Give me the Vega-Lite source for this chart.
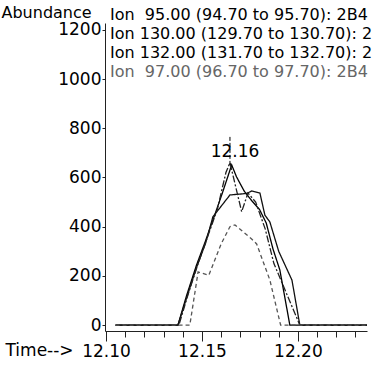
{
  "$schema": "https://vega.github.io/schema/vega-lite/v6.json",
  "width": 262,
  "height": 308,
  "autosize": {"type": "none"},
  "padding": {"left": 105, "top": 23, "right": 10, "bottom": 39},
  "background": "white",
  "config": {"view": {"stroke": null}, "font": "DejaVu Sans"},
  "title": {
    "text": ["Ion\u00a0 95.00 (94.70 to 95.70): 2B4", "Ion 130.00 (129.70 to 130.70): 2", "Ion 132.00 (131.70 to 132.70): 2"],
    "subtitle": "Ion\u00a0 97.00 (96.70 to 97.70): 2B4",
    "anchor": "start",
    "frame": "group",
    "orient": "top",
    "offset": -76,
    "dx": 5,
    "font": "DejaVu Sans",
    "fontSize": 16,
    "fontWeight": "normal",
    "lineHeight": 19,
    "color": "black",
    "subtitleFont": "DejaVu Sans",
    "subtitleFontSize": 16,
    "subtitleColor": "#666666",
    "subtitlePadding": 3
  },
  "datasets": {
    "ions": [
      {"ion": "Ion 95", "t": 12.105, "v": 0},
      {"ion": "Ion 95", "t": 12.1375, "v": 0},
      {"ion": "Ion 95", "t": 12.142, "v": 120},
      {"ion": "Ion 95", "t": 12.147, "v": 240},
      {"ion": "Ion 95", "t": 12.152, "v": 345},
      {"ion": "Ion 95", "t": 12.157, "v": 455},
      {"ion": "Ion 95", "t": 12.161, "v": 545},
      {"ion": "Ion 95", "t": 12.1655, "v": 651},
      {"ion": "Ion 95", "t": 12.168, "v": 603},
      {"ion": "Ion 95", "t": 12.172, "v": 545},
      {"ion": "Ion 95", "t": 12.176, "v": 505},
      {"ion": "Ion 95", "t": 12.18, "v": 470},
      {"ion": "Ion 95", "t": 12.1835, "v": 415},
      {"ion": "Ion 95", "t": 12.187, "v": 310},
      {"ion": "Ion 95", "t": 12.1906, "v": 224},
      {"ion": "Ion 95", "t": 12.1958, "v": 0},
      {"ion": "Ion 95", "t": 12.236, "v": 0},
      {"ion": "Ion 130", "t": 12.105, "v": 0},
      {"ion": "Ion 130", "t": 12.1375, "v": 0},
      {"ion": "Ion 130", "t": 12.142, "v": 110},
      {"ion": "Ion 130", "t": 12.147, "v": 230},
      {"ion": "Ion 130", "t": 12.152, "v": 335},
      {"ion": "Ion 130", "t": 12.1557, "v": 440},
      {"ion": "Ion 130", "t": 12.1646, "v": 529},
      {"ion": "Ion 130", "t": 12.1733, "v": 535},
      {"ion": "Ion 130", "t": 12.1759, "v": 545},
      {"ion": "Ion 130", "t": 12.1802, "v": 537},
      {"ion": "Ion 130", "t": 12.1828, "v": 447},
      {"ion": "Ion 130", "t": 12.1854, "v": 419},
      {"ion": "Ion 130", "t": 12.19, "v": 300},
      {"ion": "Ion 130", "t": 12.1969, "v": 183},
      {"ion": "Ion 130", "t": 12.201, "v": 0},
      {"ion": "Ion 130", "t": 12.236, "v": 0},
      {"ion": "Ion 132", "t": 12.105, "v": 0},
      {"ion": "Ion 132", "t": 12.138, "v": 0},
      {"ion": "Ion 132", "t": 12.143, "v": 130},
      {"ion": "Ion 132", "t": 12.148, "v": 250},
      {"ion": "Ion 132", "t": 12.153, "v": 360},
      {"ion": "Ion 132", "t": 12.158, "v": 470},
      {"ion": "Ion 132", "t": 12.1625, "v": 620},
      {"ion": "Ion 132", "t": 12.1646, "v": 660},
      {"ion": "Ion 132", "t": 12.1707, "v": 461},
      {"ion": "Ion 132", "t": 12.174, "v": 537},
      {"ion": "Ion 132", "t": 12.178, "v": 500},
      {"ion": "Ion 132", "t": 12.183, "v": 390},
      {"ion": "Ion 132", "t": 12.1875, "v": 250},
      {"ion": "Ion 132", "t": 12.201, "v": 0},
      {"ion": "Ion 132", "t": 12.236, "v": 0},
      {"ion": "Ion 97", "t": 12.105, "v": 0},
      {"ion": "Ion 97", "t": 12.1437, "v": 0},
      {"ion": "Ion 97", "t": 12.148, "v": 216},
      {"ion": "Ion 97", "t": 12.1536, "v": 203},
      {"ion": "Ion 97", "t": 12.16, "v": 330},
      {"ion": "Ion 97", "t": 12.1646, "v": 400},
      {"ion": "Ion 97", "t": 12.1672, "v": 407},
      {"ion": "Ion 97", "t": 12.1759, "v": 350},
      {"ion": "Ion 97", "t": 12.1785, "v": 330},
      {"ion": "Ion 97", "t": 12.1854, "v": 183},
      {"ion": "Ion 97", "t": 12.191, "v": 0},
      {"ion": "Ion 97", "t": 12.236, "v": 0}
    ],
    "marker": [
      {"rt": 12.1646, "top": 765, "bottom": 651, "label": "12.16"}
    ]
  },
  "resolve": {"axis": {"x": "independent"}},
  "layer": [
    {
      "data": {"name": "ions"},
      "mark": {"type": "line", "strokeWidth": 1.3, "clip": true},
      "encoding": {
        "x": {
          "field": "t",
          "type": "quantitative",
          "scale": {"domain": [12.0995, 12.236], "nice": false, "zero": false},
          "axis": {
            "orient": "bottom",
            "values": [12.10, 12.15, 12.20],
            "format": ".2f",
            "tickSize": 10,
            "grid": false,
            "domainColor": "#222222",
            "tickColor": "#222222",
            "labelColor": "black",
            "labelFont": "DejaVu Sans",
            "labelFontSize": 17,
            "labelPadding": 2,
            "labelFlush": false,
            "labelOverlap": false,
            "title": "Time-->",
            "titleX": -100,
            "titleY": 19,
            "titleAlign": "left",
            "titleBaseline": "middle",
            "titleFont": "DejaVu Sans",
            "titleFontSize": 17,
            "titleFontWeight": "normal",
            "titleColor": "black"
          }
        },
        "y": {
          "field": "v",
          "type": "quantitative",
          "scale": {"domain": [-24, 1228], "nice": false, "zero": false},
          "axis": {
            "values": [0, 200, 400, 600, 800, 1000, 1200],
            "format": "d",
            "tickSize": 3,
            "grid": false,
            "domainColor": "#222222",
            "tickColor": "#222222",
            "labelColor": "black",
            "labelFont": "DejaVu Sans",
            "labelFontSize": 17,
            "labelPadding": 1,
            "labelFlush": false,
            "labelOverlap": false,
            "title": "Abundance",
            "titleAngle": 0,
            "titleX": -104,
            "titleY": -11,
            "titleAlign": "left",
            "titleBaseline": "middle",
            "titleFont": "DejaVu Sans",
            "titleFontSize": 16,
            "titleFontWeight": "normal",
            "titleColor": "black"
          }
        },
        "detail": {"field": "ion"},
        "strokeDash": {
          "field": "ion",
          "type": "nominal",
          "scale": {"domain": ["Ion 95", "Ion 130", "Ion 132", "Ion 97"], "range": [[1, 0], [1, 0], [7, 2, 2, 2], [4, 3]]},
          "legend": null
        },
        "color": {
          "field": "ion",
          "type": "nominal",
          "scale": {"domain": ["Ion 95", "Ion 130", "Ion 132", "Ion 97"], "range": ["#000000", "#111111", "#222222", "#555555"]},
          "legend": null
        }
      }
    },
    {
      "data": {"name": "marker"},
      "mark": {"type": "rule", "strokeDash": [4, 2], "color": "black", "strokeWidth": 1},
      "encoding": {
        "x": {
          "field": "rt",
          "type": "quantitative",
          "axis": {
            "orient": "bottom",
            "values": [12.11, 12.12, 12.13, 12.14, 12.16, 12.17, 12.18, 12.19, 12.21, 12.22, 12.23],
            "labels": false,
            "domain": false,
            "grid": false,
            "tickSize": 6,
            "tickColor": "#222222",
            "title": null
          }
        },
        "y": {"field": "top", "type": "quantitative"},
        "y2": {"field": "bottom"}
      }
    },
    {
      "data": {"name": "marker"},
      "mark": {"type": "text", "font": "DejaVu Sans", "fontSize": 17, "color": "black", "dx": 5, "dy": 15, "baseline": "middle", "align": "center"},
      "encoding": {
        "x": {"field": "rt", "type": "quantitative", "axis": null},
        "y": {"field": "top", "type": "quantitative"},
        "text": {"field": "label"}
      }
    }
  ]
}
